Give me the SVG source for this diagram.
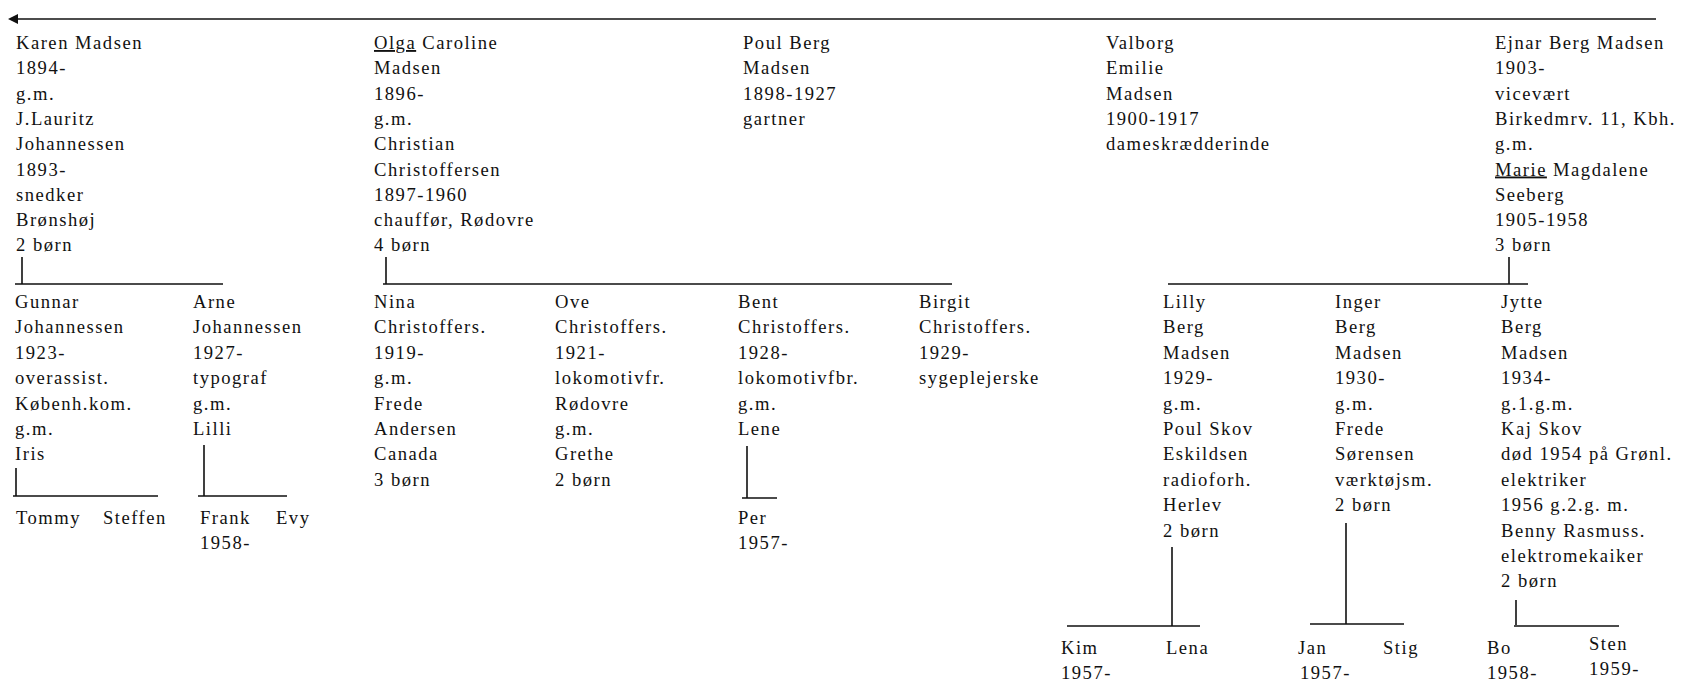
<svg xmlns="http://www.w3.org/2000/svg" width="1681" height="683" viewBox="0 0 1681 683">
<style>
text{font-family:"Liberation Serif","Times New Roman",serif;font-size:18.6px;fill:#111;letter-spacing:1.5px}
.ln{stroke:#111;stroke-width:1.6;fill:none}
.u{text-decoration:underline}
.ah{fill:#111}
</style>
<rect width="1681" height="683" fill="#fff"/>
<g id="connectors">
<line class="ln" x1="1656" y1="19" x2="14" y2="19"/>
<polygon class="ah" points="8,19 18,14 18,24"/>
<path class="ln" d="M22,257 V284 M15,284 H223"/>
<path class="ln" d="M386,257 V284 M383,284 H952"/>
<path class="ln" d="M1509,257 V284 M1168,284 H1528"/>
<path class="ln" d="M16,468 V496 M13,496 H158"/>
<path class="ln" d="M204,445 V496 M198,496 H287"/>
<path class="ln" d="M747,446 V498 M742,498 H777"/>
<path class="ln" d="M1172,547 V626 M1067,626 H1200"/>
<path class="ln" d="M1346,523 V624 M1310,624 H1404"/>
<path class="ln" d="M1516,600 V625 M1514,626 H1619"/>
</g>
<g id="karen"><text x="16" y="49"><tspan x="16">Karen Madsen</tspan><tspan x="16" dy="25.3">1894-</tspan><tspan x="16" dy="25.3">g.m.</tspan><tspan x="16" dy="25.3">J.Lauritz</tspan><tspan x="16" dy="25.3">Johannessen</tspan><tspan x="16" dy="25.3">1893-</tspan><tspan x="16" dy="25.3">snedker</tspan><tspan x="16" dy="25.3">Brønshøj</tspan><tspan x="16" dy="25.3">2 børn</tspan></text></g>
<g id="olga"><text x="374" y="49"><tspan x="374" class="u">Olga</tspan><tspan> Caroline</tspan><tspan x="374" dy="25.3">Madsen</tspan><tspan x="374" dy="25.3">1896-</tspan><tspan x="374" dy="25.3">g.m.</tspan><tspan x="374" dy="25.3">Christian</tspan><tspan x="374" dy="25.3">Christoffersen</tspan><tspan x="374" dy="25.3">1897-1960</tspan><tspan x="374" dy="25.3">chauffør, Rødovre</tspan><tspan x="374" dy="25.3">4 børn</tspan></text></g>
<g id="poul"><text x="743" y="49"><tspan x="743">Poul Berg</tspan><tspan x="743" dy="25.3">Madsen</tspan><tspan x="743" dy="25.3">1898-1927</tspan><tspan x="743" dy="25.3">gartner</tspan></text></g>
<g id="valborg"><text x="1106" y="49"><tspan x="1106">Valborg</tspan><tspan x="1106" dy="25.3">Emilie</tspan><tspan x="1106" dy="25.3">Madsen</tspan><tspan x="1106" dy="25.3">1900-1917</tspan><tspan x="1106" dy="25.3">dameskrædderinde</tspan></text></g>
<g id="ejnar"><text x="1495" y="49"><tspan x="1495">Ejnar Berg Madsen</tspan><tspan x="1495" dy="25.3">1903-</tspan><tspan x="1495" dy="25.3">vicevært</tspan><tspan x="1495" dy="25.3">Birkedmrv. 11, Kbh.</tspan><tspan x="1495" dy="25.3">g.m.</tspan><tspan x="1495" dy="25.3" class="u">Marie</tspan><tspan> Magdalene</tspan><tspan x="1495" dy="25.3">Seeberg</tspan><tspan x="1495" dy="25.3">1905-1958</tspan><tspan x="1495" dy="25.3">3 børn</tspan></text></g>
<g id="gunnar"><text y="308"><tspan x="15">Gunnar</tspan><tspan x="15" dy="25.4">Johannessen</tspan><tspan x="15" dy="25.4">1923-</tspan><tspan x="15" dy="25.4">overassist.</tspan><tspan x="15" dy="25.4">Københ.kom.</tspan><tspan x="15" dy="25.4">g.m.</tspan><tspan x="15" dy="25.4">Iris</tspan></text></g>
<g id="arne"><text y="308"><tspan x="193">Arne</tspan><tspan x="193" dy="25.4">Johannessen</tspan><tspan x="193" dy="25.4">1927-</tspan><tspan x="193" dy="25.4">typograf</tspan><tspan x="193" dy="25.4">g.m.</tspan><tspan x="193" dy="25.4">Lilli</tspan></text></g>
<g id="nina"><text y="308"><tspan x="374">Nina</tspan><tspan x="374" dy="25.4">Christoffers.</tspan><tspan x="374" dy="25.4">1919-</tspan><tspan x="374" dy="25.4">g.m.</tspan><tspan x="374" dy="25.4">Frede</tspan><tspan x="374" dy="25.4">Andersen</tspan><tspan x="374" dy="25.4">Canada</tspan><tspan x="374" dy="25.4">3 børn</tspan></text></g>
<g id="ove"><text y="308"><tspan x="555">Ove</tspan><tspan x="555" dy="25.4">Christoffers.</tspan><tspan x="555" dy="25.4">1921-</tspan><tspan x="555" dy="25.4">lokomotivfr.</tspan><tspan x="555" dy="25.4">Rødovre</tspan><tspan x="555" dy="25.4">g.m.</tspan><tspan x="555" dy="25.4">Grethe</tspan><tspan x="555" dy="25.4">2 børn</tspan></text></g>
<g id="bent"><text y="308"><tspan x="738">Bent</tspan><tspan x="738" dy="25.4">Christoffers.</tspan><tspan x="738" dy="25.4">1928-</tspan><tspan x="738" dy="25.4">lokomotivfbr.</tspan><tspan x="738" dy="25.4">g.m.</tspan><tspan x="738" dy="25.4">Lene</tspan></text></g>
<g id="birgit"><text y="308"><tspan x="919">Birgit</tspan><tspan x="919" dy="25.4">Christoffers.</tspan><tspan x="919" dy="25.4">1929-</tspan><tspan x="919" dy="25.4">sygeplejerske</tspan></text></g>
<g id="lilly"><text y="308"><tspan x="1163">Lilly</tspan><tspan x="1163" dy="25.4">Berg</tspan><tspan x="1163" dy="25.4">Madsen</tspan><tspan x="1163" dy="25.4">1929-</tspan><tspan x="1163" dy="25.4">g.m.</tspan><tspan x="1163" dy="25.4">Poul Skov</tspan><tspan x="1163" dy="25.4">Eskildsen</tspan><tspan x="1163" dy="25.4">radioforh.</tspan><tspan x="1163" dy="25.4">Herlev</tspan><tspan x="1163" dy="25.4">2 børn</tspan></text></g>
<g id="inger"><text y="308"><tspan x="1335">Inger</tspan><tspan x="1335" dy="25.4">Berg</tspan><tspan x="1335" dy="25.4">Madsen</tspan><tspan x="1335" dy="25.4">1930-</tspan><tspan x="1335" dy="25.4">g.m.</tspan><tspan x="1335" dy="25.4">Frede</tspan><tspan x="1335" dy="25.4">Sørensen</tspan><tspan x="1335" dy="25.4">værktøjsm.</tspan><tspan x="1335" dy="25.4">2 børn</tspan></text></g>
<g id="jytte"><text y="308"><tspan x="1501">Jytte</tspan><tspan x="1501" dy="25.4">Berg</tspan><tspan x="1501" dy="25.4">Madsen</tspan><tspan x="1501" dy="25.4">1934-</tspan><tspan x="1501" dy="25.4">g.1.g.m.</tspan><tspan x="1501" dy="25.4">Kaj Skov</tspan><tspan x="1501" dy="25.4">død 1954 på Grønl.</tspan><tspan x="1501" dy="25.4">elektriker</tspan><tspan x="1501" dy="25.4">1956 g.2.g. m.</tspan><tspan x="1501" dy="25.4">Benny Rasmuss.</tspan><tspan x="1501" dy="25.4">elektromekaiker</tspan><tspan x="1501" dy="25.4">2 børn</tspan></text></g>
<g id="tommy"><text x="16" y="524">Tommy</text></g>
<g id="steffen"><text x="103" y="524">Steffen</text></g>
<g id="frank"><text y="524"><tspan x="200">Frank</tspan><tspan x="200" dy="25">1958-</tspan></text></g>
<g id="evy"><text x="276" y="524">Evy</text></g>
<g id="per"><text y="524"><tspan x="738">Per</tspan><tspan x="738" dy="25">1957-</tspan></text></g>
<g id="kim"><text y="654"><tspan x="1061">Kim</tspan><tspan x="1061" dy="25">1957-</tspan></text></g>
<g id="lena"><text x="1166" y="654">Lena</text></g>
<g id="jan"><text y="654"><tspan x="1298">Jan</tspan><tspan x="1300" dy="25">1957-</tspan></text></g>
<g id="stig"><text x="1383" y="654">Stig</text></g>
<g id="bo"><text y="654"><tspan x="1487">Bo</tspan><tspan x="1487" dy="25">1958-</tspan></text></g>
<g id="sten"><text y="650"><tspan x="1589">Sten</tspan><tspan x="1589" dy="25">1959-</tspan></text></g>
</svg>
